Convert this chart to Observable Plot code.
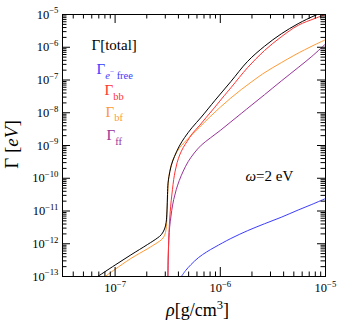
<!DOCTYPE html>
<html><head><meta charset="utf-8">
<script src="https://cdn.jsdelivr.net/npm/d3@7"></script>
<script src="https://cdn.jsdelivr.net/npm/@observablehq/plot@0.6"></script>
<style>
html,body{margin:0;padding:0;background:#fff;}
#chart svg{display:block;}
</style></head><body><div id="chart"></div>
<script>
// ---- data: log10(rho [g/cm^3]) and log10(Gamma [eV]) ----
const totalLogRho   = [-7.165,-7.0,-6.85,-6.69,-6.60,-6.56,-6.53,-6.515,-6.507,-6.502,-6.497,-6.488,-6.467,-6.435,-6.39,-6.34,-6.27,-6.18,-6.05,-5.90,-5.74,-5.58,-5.42,-5.26,-5.10,-5.0];
const totalLogGamma = [-13.0,-12.65,-12.34,-12.02,-11.83,-11.72,-11.55,-11.35,-11.0,-10.5,-10.15,-9.95,-9.62,-9.33,-9.02,-8.76,-8.46,-8.13,-7.62,-7.05,-6.43,-5.97,-5.59,-5.28,-5.03,-4.90];

const freeLogRho    = [-6.37,-6.33,-6.28,-6.21,-6.13,-6.05,-5.90,-5.74,-5.58,-5.42,-5.26,-5.13,-5.0];
const freeLogGamma  = [-13.0,-12.82,-12.64,-12.43,-12.25,-12.10,-11.84,-11.60,-11.39,-11.19,-10.97,-10.80,-10.62];

const bbLogRho      = [-6.498,-6.495,-6.490,-6.484,-6.476,-6.467,-6.455,-6.443,-6.429,-6.410,-6.386,-6.352,-6.314,-6.267,-6.20,-6.133,-6.057,-5.981,-5.895,-5.74,-5.58,-5.42,-5.26,-5.10,-5.0];
const bbLogGamma    = [-13.0,-12.46,-11.91,-11.42,-11.02,-10.69,-10.35,-10.04,-9.78,-9.52,-9.29,-9.06,-8.87,-8.64,-8.40,-8.14,-7.85,-7.55,-7.22,-6.62,-6.10,-5.68,-5.33,-5.12,-5.0];

const bfLogRho      = [-7.095,-7.0,-6.85,-6.69,-6.60,-6.56,-6.53,-6.515,-6.507,-6.502,-6.497,-6.49,-6.475,-6.455,-6.435,-6.39,-6.34,-6.27,-6.20,-6.10,-6.0,-5.9,-5.8,-5.7,-5.6,-5.5,-5.42,-5.3,-5.2,-5.1,-5.0];
const bfLogGamma    = [-13.0,-12.78,-12.45,-12.15,-11.97,-11.88,-11.75,-11.55,-11.2,-10.7,-10.3,-9.97,-9.70,-9.48,-9.33,-9.08,-8.90,-8.67,-8.45,-8.13,-7.83,-7.55,-7.29,-7.05,-6.82,-6.62,-6.47,-6.25,-6.08,-5.92,-5.77];

const ffLogRho      = [-6.498,-6.496,-6.492,-6.486,-6.476,-6.462,-6.443,-6.419,-6.390,-6.352,-6.305,-6.248,-6.181,-6.095,-6.0,-5.9,-5.8,-5.7,-5.58,-5.42,-5.26,-5.13,-5.0];
const ffLogGamma    = [-13.0,-12.52,-12.06,-11.66,-11.33,-10.99,-10.65,-10.35,-10.07,-9.78,-9.49,-9.23,-8.99,-8.77,-8.54,-8.28,-8.02,-7.76,-7.45,-7.03,-6.62,-6.28,-5.90];

const seriesNames  = ["Γ[total]", "Γ_{$e$^{−} free}", "Γ_{bb}", "Γ_{bf}", "Γ_{ff}"];
const seriesColors = ["#000000", "#3b3bff", "#ff3333", "#ff9933", "#993399"];

const xMajorTicks = [1e-7, 1e-6, 1e-5];
const yMajorTicks = [1e-13, 1e-12, 1e-11, 1e-10, 1e-9, 1e-8, 1e-7, 1e-6, 1e-5];
const annotation  = "$ω$=2 eV";
const xTitle = "$ρ$[g/cm^{3}]";
const yTitle = "Γ [$eV$]";

// ---- build ----
const toRows = (lx, ly) => lx.map((v, i) => ({x: 10 ** v, y: 10 ** ly[i]}));
const series = [
  toRows(totalLogRho, totalLogGamma),
  toRows(freeLogRho, freeLogGamma),
  toRows(bbLogRho, bbLogGamma),
  toRows(bfLogRho, bfLogGamma),
  toRows(ffLogRho, ffLogGamma)
];
const minorOf = (lo, hi) => {
  const out = [];
  for (let e = lo; e < hi; e++) for (let k = 2; k <= 9; k++) out.push(k * 10 ** e);
  return out;
};
const xMinorTicks = minorOf(-8, -5).filter(v => v > 10 ** -7.5);
const yMinorTicks = minorOf(-13, -5);

const W = 337, H = 330, ML = 62, MR = 12, MT = 14, MB = 54;
const IW = W - ML - MR, IH = H - MT - MB;
const MAJ = 9, MIN = 4.5;
const expFmt = d => `10^{−${Math.round(-Math.log10(d))}}`;

const legendPos = [[29, 30.3], [34, 55], [42, 76], [43, 97.7], [44, 121]];
const drawOrder = [1, 4, 3, 2, 0];

const chart = Plot.plot({
  width: W, height: H,
  marginLeft: ML, marginRight: MR, marginTop: MT, marginBottom: MB,
  style: {fontFamily: "'Liberation Serif', 'Times New Roman', serif", fontSize: "12.5px", background: "#fff", color: "#000"},
  x: {type: "log", domain: [10 ** -7.5, 1e-5], label: null},
  y: {type: "log", domain: [1e-13, 1e-5], label: null},
  marks: [
    ...drawOrder.map(i => Plot.line(series[i], {x: "x", y: "y", stroke: seriesColors[i], strokeWidth: 1, curve: "catmull-rom", clip: true})),
    // inward ticks on four sides
    Plot.tickX(xMajorTicks, {x: d => d, insetTop: IH - MAJ}),
    Plot.tickX(xMinorTicks, {x: d => d, insetTop: IH - MIN}),
    Plot.tickX(xMajorTicks, {x: d => d, insetBottom: IH - MAJ}),
    Plot.tickX(xMinorTicks, {x: d => d, insetBottom: IH - MIN}),
    Plot.tickY(yMajorTicks, {y: d => d, insetRight: IW - MAJ + 1}),
    Plot.tickY(yMinorTicks, {y: d => d, insetRight: IW - MIN}),
    Plot.tickY(yMajorTicks, {y: d => d, insetLeft: IW - MAJ + 1}),
    Plot.tickY(yMinorTicks, {y: d => d, insetLeft: IW - MIN}),
    Plot.frame({stroke: "#000", strokeWidth: 1}),
    Plot.axisX(xMajorTicks, {tickSize: 0, tickPadding: 7, tickFormat: expFmt, label: null, fontSize: 12.5}),
    Plot.axisY(yMajorTicks, {tickSize: 0, tickPadding: 4, tickFormat: expFmt, label: null, fontSize: 12.5}),
    // legend texts
    ...seriesNames.map((name, i) => Plot.text([name], {
      text: d => d, frameAnchor: "top-left", dx: legendPos[i][0], dy: legendPos[i][1],
      textAnchor: "start", lineAnchor: "middle", fill: seriesColors[i], fontSize: 15
    })),
    Plot.text([annotation], {text: d => d, frameAnchor: "top-left", dx: 183, dy: 162, textAnchor: "start", lineAnchor: "middle", fontSize: 15}),
    Plot.text([xTitle], {text: d => d, frameAnchor: "bottom", dx: 3.5, dy: 34, textAnchor: "middle", lineAnchor: "middle", fontSize: 18}),
    Plot.text([yTitle], {text: d => d, frameAnchor: "left", dx: -50.5, dy: -1, rotate: -90, textAnchor: "middle", lineAnchor: "middle", fontSize: 19})
  ]
});
document.getElementById("chart").appendChild(chart);

// ---- rich text: ^{sup}, _{sub}, $italic$ into tspans ----
const NS = "http://www.w3.org/2000/svg";
function parseRich(str) {
  const out = [];
  function rec(s, shift, scale, italic) {
    let i = 0, buf = "";
    const flush = () => { if (buf) { out.push({text: buf, shift, scale, italic}); buf = ""; } };
    while (i < s.length) {
      const c = s[i];
      if ((c === "^" || c === "_") && s[i + 1] === "{") {
        flush();
        let depth = 1, j = i + 2;
        while (j < s.length && depth) { if (s[j] === "{") depth++; else if (s[j] === "}") depth--; j++; }
        rec(s.slice(i + 2, j - 1), shift + (c === "^" ? -0.42 : 0.3) * scale, scale * 0.7, italic);
        i = j;
      } else if (c === "$") { flush(); italic = !italic; i++; }
      else { buf += c; i++; }
    }
    flush();
  }
  rec(str, 0, 1, false);
  return out;
}
function richify(el) {
  const s = el.textContent;
  if (!/[\^_$]/.test(s)) return;
  const fs = parseFloat(getComputedStyle(el).fontSize);
  const segs = parseRich(s);
  while (el.firstChild) el.removeChild(el.firstChild);
  let prev = 0;
  for (const g of segs) {
    const t = document.createElementNS(NS, "tspan");
    if (g.shift !== prev) t.setAttribute("dy", ((g.shift - prev) * fs).toFixed(2));
    prev = g.shift;
    if (g.scale !== 1) t.setAttribute("font-size", (g.scale * fs).toFixed(2));
    if (g.italic) t.setAttribute("font-style", "italic");
    t.textContent = g.text;
    el.appendChild(t);
  }
}
chart.querySelectorAll("text").forEach(richify);
</script>
</body></html>
